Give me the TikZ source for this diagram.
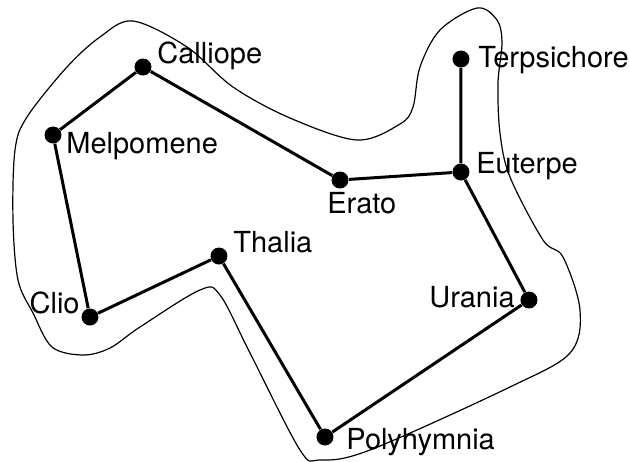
\documentclass[tikz,border=0pt]{standalone}
\usepackage{fontspec}
\setmainfont{TeX Gyre Heros}
\tikzset{
  muse/.style={circle, fill=black, inner sep=0pt, minimum size=8.5pt},
  name label/.style={anchor=base west, inner sep=0pt, font=\fontsize{14.5}{17}\selectfont},
  tour/.style={line width=1.5pt},
  hull/.style={line width=0.6pt}
}
\begin{document}
\begin{tikzpicture}[x=0.5pt, y=-0.5pt]
  \useasboundingbox (0,0) rectangle (629,462);

  % the outer curve
  \draw[hull] plot[smooth cycle, tension=0.55] coordinates {
    (133,21) (187,47) (233,87) (290,118) (357,140) (400,124) (413,107)
    (420,67) (440,30) (477,8) (497,20) (502,43) (498,83) (500,133)
    (510,177) (543,240) (563,257) (580,310) (570,353) (510,387)
    (370,450) (320,460) (300,450) (250,353) (220,295) (200,290)
    (140,327) (110,348) (83,355) (52,347) (33,313) (18,280) (13,220)
    (15,150) (27,117) (67,67) (100,37)};

  % the muses
  \foreach \n/\x/\y in {calliope/143/67, melpomene/53/135, clio/90/317,
      thalia/219/256, polyhymnia/325/437, urania/529/300, euterpe/461/172,
      terpsichore/461/59, erato/340/180} {
   \node[muse] (\n) at (\x,\y) {};
  }

  \draw[tour] (terpsichore) -- (euterpe) -- (erato) -- (calliope) -- (melpomene)
    -- (clio) -- (thalia) -- (polyhymnia) -- (urania) -- (euterpe);

  % labels
  \node[name label] (calliopeL) at (157,63) {Calliope};
  \node[name label] (melpomeneL) at (66,153) {Melpomene};
  \node[name label] (terpsichoreL) at (478,67) {Terpsichore};
  \node[name label] (euterpeL) at (476,173) {Euterpe};
  \node[name label] (eratoL) at (327,213) {Erato};
  \node[name label] (thaliaL) at (233,252) {Thalia};
  \node[name label, anchor=base east] (clioL) at (80,313) {Clio};
  \node[name label, anchor=base east] (uraniaL) at (515,307) {Urania};
  \node[name label] (polyhymniaL) at (346,449) {Polyhymnia};
\end{tikzpicture}
\end{document}
